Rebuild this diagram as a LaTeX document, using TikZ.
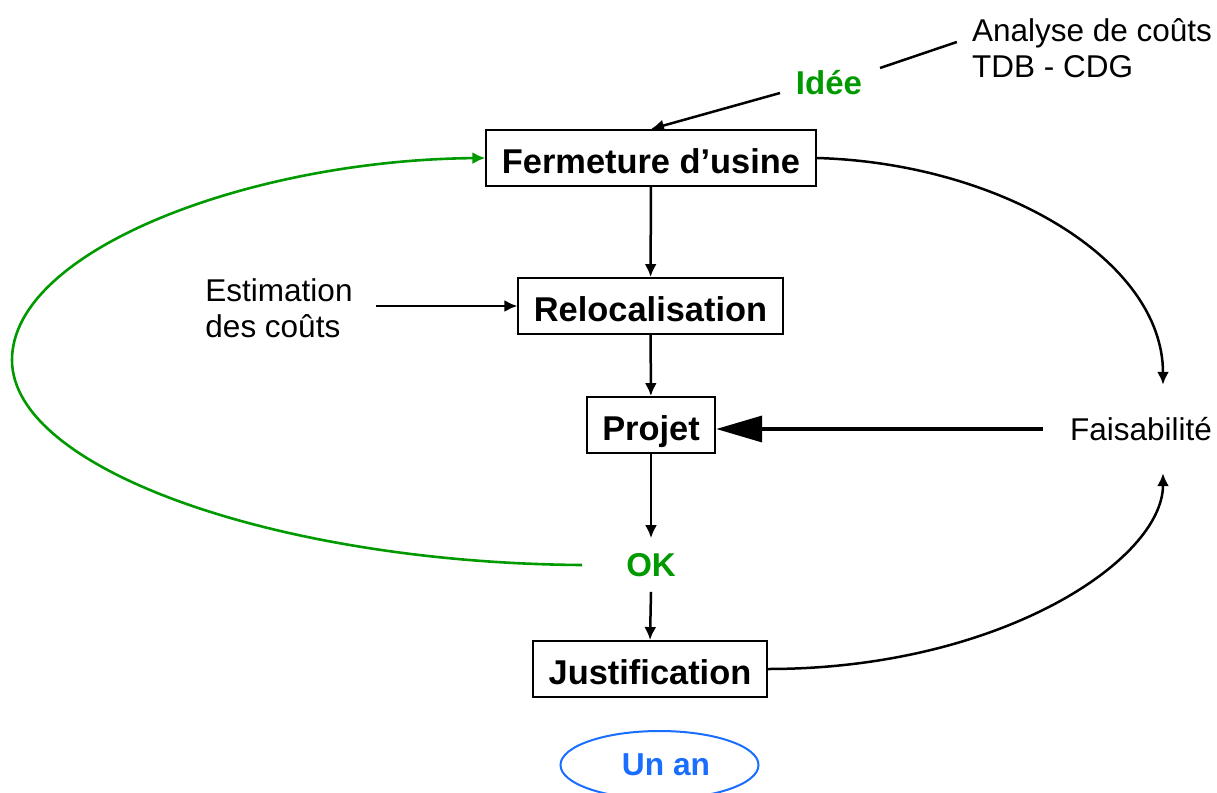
\documentclass[tikz,border=0pt]{standalone}
\usepackage{fontspec}
\setmainfont{Liberation Sans}
\usetikzlibrary{arrows.meta,shapes.geometric,calc}
\definecolor{okgreen}{RGB}{0,153,0}
\definecolor{anblue}{RGB}{26,110,255}
\begin{document}
\begin{tikzpicture}[x=1pt,y=-1pt,
  box/.style={draw,line width=1.9pt,inner xsep=15.5pt,inner ysep=0pt,minimum height=56pt,text height=31pt,text depth=0pt,font=\fontsize{34.4}{40}\selectfont\bfseries},
  txt/.style={font=\fontsize{31.5}{36}\selectfont,align=left,inner sep=0pt},
  gtxt/.style={text=okgreen,font=\fontsize{33}{38}\selectfont\bfseries},
  arr/.style={line width=2.5pt,-{Latex[length=13pt,width=12pt]}},
  conn/.style={line width=2.5pt},
  garr/.style={draw=okgreen,line width=2.6pt,-{Latex[length=13pt,width=12pt]}},
  bigarr/.style={line width=3.6pt,-{Triangle[length=46pt,width=26pt]}}]
\useasboundingbox (0,0) rectangle (1217,792);
% nodes
\node[box] (ferm) at (651,158) {Fermeture d’usine};
\node[box] (reloc) at (650.5,306) {Relocalisation};
\node[box] (proj) at (651,425) {Projet};
\node[box] (just) at (650,669) {Justification};
\node[gtxt,inner xsep=44pt,inner ysep=15pt] (ok) at (651,565) {OK};
\node[gtxt] (idee) at (829,83) {Idée};
\node[txt] (ana) at (1092,48) {Analyse de coûts\\TDB - CDG};
\node[txt] (est) at (279,308) {Estimation\\des coûts};
\node[font=\fontsize{31.5}{36}\selectfont,inner xsep=27pt,inner ysep=0pt,minimum height=88pt] (fa) at (1141,429) {Faisabilité};
\node[draw=anblue,line width=2pt,ellipse,minimum width=198pt,minimum height=68pt,inner sep=0pt,text=anblue,font=\fontsize{31.7}{36}\selectfont\bfseries] (unan) at (659.5,765) {\hspace*{13pt}Un an};
% connectors
\draw[arr] (ferm) -- (reloc);
\draw[arr] (reloc) -- (proj);
\draw[arr] (proj.south) -- (ok.north);
\draw[arr] (ok.south) -- (just.north);
\draw[arr] ($(idee.center)+(-49,10)$) -- (ferm.north);
\draw[conn] ($(idee.center)+(51,-15)$) -- ($(ana.west)+(-15,-6)$);
\coordinate (e1) at ([xshift=23pt]est.east);
\draw[arr] (e1 |- reloc.west) -- (reloc.west);
\draw[bigarr] (fa.west) -- (fa.west -| proj.east);
\draw[arr] (ferm.east) .. controls (1000,163) and (1163,260) .. ([xshift=22pt]fa.north);
\draw[arr] (just.east) .. controls (1000,669) and (1163,560) .. ([xshift=22pt]fa.south);
\draw[garr] (ok.west) .. controls (280,563) and (12,470) .. (12,360) .. controls (12,250) and (250,160) .. (ferm.west);
\end{tikzpicture}
\end{document}
